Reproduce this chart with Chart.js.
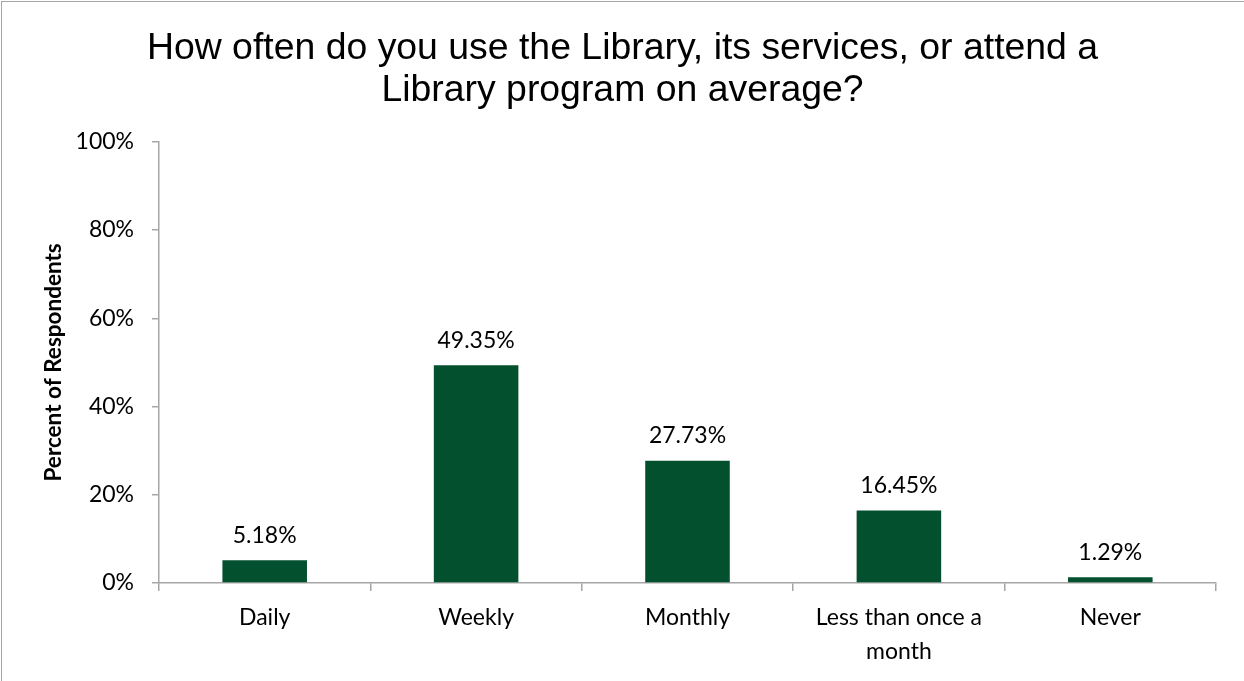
<!DOCTYPE html>
<html>
<head>
<meta charset="utf-8">
<script src="https://cdn.jsdelivr.net/npm/chart.js@4.4.1/dist/chart.umd.min.js"></script>
<style>
  html, body { margin: 0; padding: 0; background: #fff; overflow: hidden; }
  #frame { position: absolute; left: 1px; top: 1px; width: 1400px; height: 900px; border-left: 1px solid #a6a6a6; border-top: 1px solid #a6a6a6; }
  #chart { position: absolute; left: 0; top: 0; }
</style>
</head>
<body>
<div id="frame"></div>
<canvas id="chart" width="1244" height="681"></canvas>
<script>
const categories = ["Daily", "Weekly", "Monthly", ["Less than once a", "month"], "Never"];
const percentValues = [5.18, 49.35, 27.73, 16.45, 1.29];
const yTicks = [0, 20, 40, 60, 80, 100];

const titleLines = ["How often do you use the Library, its services, or attend a", "Library program on average?"];
const barColor = "#03502f";
const axisGray = "#a6a6a6";
const labelFont = "Lato";

// values written above each bar
const barLabels = {
  id: "barLabels",
  afterDatasetsDraw(chart) {
    const ctx = chart.ctx;
    const meta = chart.getDatasetMeta(0);
    ctx.save();
    ctx.font = "23px " + labelFont;
    ctx.fillStyle = "#000";
    ctx.textAlign = "center";
    ctx.textBaseline = "middle";
    meta.data.forEach((bar, i) => {
      ctx.fillText(percentValues[i].toFixed(2) + "%", bar.x, bar.y - 25);
    });
    ctx.restore();
  }
};

new Chart(document.getElementById("chart").getContext("2d"), {
  type: "bar",
  data: {
    labels: categories,
    datasets: [{
      data: percentValues,
      backgroundColor: barColor,
      barPercentage: 0.4,
      categoryPercentage: 1
    }]
  },
  options: {
    responsive: false,
    animation: false,
    devicePixelRatio: 1,
    layout: { padding: { left: 29, right: 28, top: 0, bottom: 0 } },
    plugins: {
      legend: { display: false },
      tooltip: { enabled: false },
      title: {
        display: true,
        text: titleLines,
        color: "#000",
        font: { family: "Liberation Sans, Arial", size: 37.4, weight: "normal", lineHeight: 1.12 },
        padding: { top: 28, bottom: 30 }
      }
    },
    scales: {
      x: {
        offset: true,
        grid: { offset: true, drawOnChartArea: false, drawTicks: true, tickLength: 8, color: axisGray, lineWidth: 1.5 },
        border: { color: axisGray, width: 1.5 },
        ticks: {
          color: "#000",
          padding: 10,
          maxRotation: 0,
          autoSkip: false,
          font: { family: labelFont, size: 23, lineHeight: 1.48 }
        },
        afterFit: s => { s.height = 98; }
      },
      y: {
        min: 0,
        max: 100,
        afterBuildTicks: s => { s.ticks = yTicks.map(v => ({ value: v })); },
        grid: { drawOnChartArea: false, drawTicks: true, tickLength: 7, color: axisGray, lineWidth: 1.5 },
        border: { color: axisGray, width: 1.5 },
        ticks: {
          color: "#000",
          padding: 18,
          font: { family: labelFont, size: 23 },
          callback: v => v + "%"
        },
        title: {
          display: true,
          text: "Percent of Respondents",
          color: "#000",
          font: { family: labelFont, size: 22.5, weight: "bold" },
          padding: { top: 11, bottom: 0 }
        },
        afterFit: s => { s.width = 130; }
      }
    }
  },
  plugins: [barLabels]
});
</script>
</body>
</html>
